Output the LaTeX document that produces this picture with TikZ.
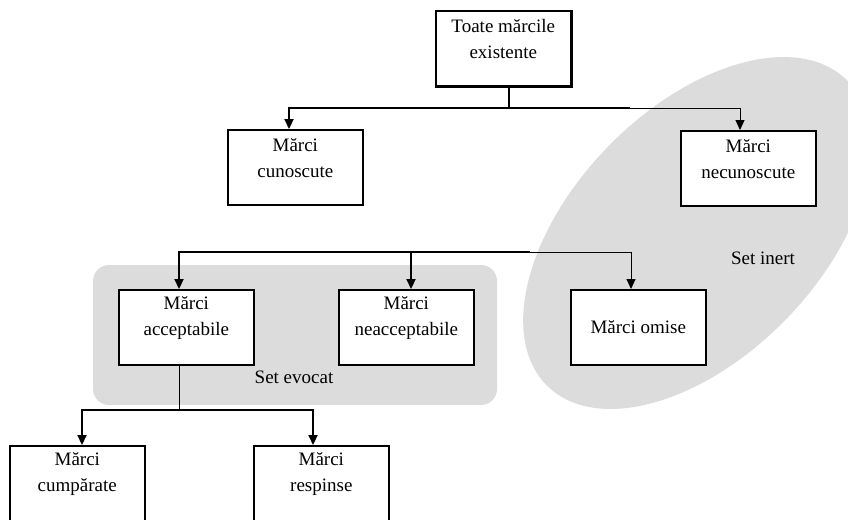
\documentclass[tikz,border=0pt]{standalone}
\usepackage{fontspec}
\setmainfont{Liberation Serif}
\usetikzlibrary{arrows.meta}
\definecolor{setfill}{RGB}{220,220,220}
\begin{document}
\begin{tikzpicture}[x=1pt,y=-1pt,
  box/.style={draw, line width=1.6pt, fill=white, minimum width=135pt,
    minimum height=75pt, inner sep=0pt, anchor=north west},
  lbl/.style={align=center, font=\fontsize{19}{26}\selectfont, inner sep=0pt},
  bar/.style={line width=2.2pt},
  thinline/.style={line width=1pt},
  tip/.style={-{Triangle[width=9pt,length=10pt]}},
  region/.style={fill=setfill, draw=none}]
\useasboundingbox (0,0) rectangle (848,519);
\clip (0,0) rectangle (848,519);

% shaded sets
\fill[region, rounded corners=16pt] (93,265) rectangle (497,405);
\fill[region, rotate around={45.7:(697,233)}] (697,233) ellipse [x radius=214, y radius=124];
\node[lbl] (evocat) at (294,377) {Set evocat};
\node[lbl] (inert) at (763,258) {Set inert};

% boxes
\node[box] (top)   at (435,10)  {};
\node[box] (cun)   at (227,129) {};
\node[box] (necun) at (680,130) {};
\node[box] (acc)   at (118,289) {};
\node[box] (neacc) at (338,289) {};
\node[box] (omise) at (570,289) {};
\node[box] (cump)  at (9,445)   {};
\node[box] (resp)  at (253,445) {};
\draw[line width=2.6pt] (top.north east) -- (top.south east) -- (top.south west);

% box texts
\node[lbl] (topt)   at ([yshift=9pt]top.center)   {Toate mărcile\\existente};
\node[lbl] (cunt)   at ([yshift=9pt]cun.center)   {Mărci\\cunoscute};
\node[lbl] (necunt) at ([yshift=9pt]necun.center) {Mărci\\necunoscute};
\node[lbl] (acct)   at ([yshift=9pt]acc.center)   {Mărci\\acceptabile};
\node[lbl] (neacct) at ([yshift=9pt]neacc.center) {Mărci\\neacceptabile};
\node[lbl] (omiset) at (omise.center)             {Mărci omise};
\node[lbl] (cumpt)  at ([yshift=9pt]cump.center)  {Mărci\\cumpărate};
\node[lbl] (respt)  at ([yshift=9pt]resp.center)  {Mărci\\respinse};

% first level connectors
\coordinate (j1) at (509,108);
\coordinate (a1) at (289,108);
\coordinate (k1) at (630,108);
\coordinate (a2) at (740,108);
\draw[bar] (top.south -| j1) -- (j1);
\draw[bar,tip] (k1) -- (a1) -- (a1 |- cun.north);
\draw[thinline,tip] (k1) -- (a2) -- (a2 |- necun.north);

% second level connectors
\coordinate (b1) at (179,252);
\coordinate (b2) at (411,252);
\coordinate (k2) at (530,252);
\coordinate (b3) at (631,252);
\draw[bar,tip] (k2) -- (b1) -- (b1 |- acc.north);
\draw[bar,tip] (b2) -- (b2 |- neacc.north);
\draw[thinline,tip] (k2) -- (b3) -- (b3 |- omise.north);

% third level connectors
\coordinate (j3) at (179,410);
\coordinate (c1) at (82,410);
\coordinate (c2) at (313,410);
\draw[thinline] (acc.south -| j3) -- (j3);
\draw[bar,tip] (j3) -- (c1) -- (c1 |- cump.north);
\draw[bar,tip] (j3) -- (c2) -- (c2 |- resp.north);
\end{tikzpicture}
\end{document}
